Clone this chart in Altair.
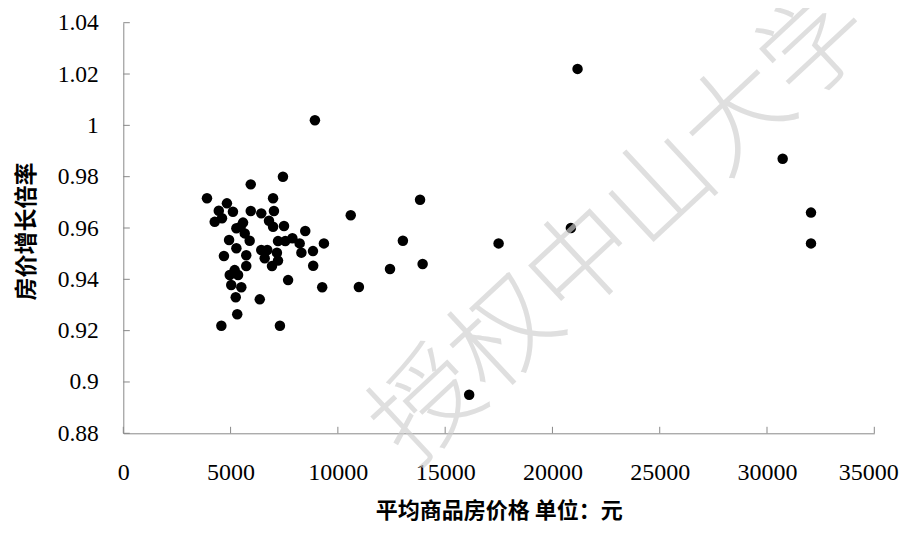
import altair as alt
import pandas as pd

# Average commodity housing price (yuan) and price growth ratio
price = [
    8930, 21170, 30730, 32050, 32050, 17490, 20860, 16120,
    10600, 13830, 13030, 12430, 13950, 10980,
    7440, 5940, 3900, 6980, 4830, 4450, 5110, 4260, 4600, 5940,
    6430, 7020, 6790, 6980, 7490, 8480, 5580, 5270, 5470, 5660,
    5890, 4930, 5270, 4690, 5730, 5730, 7210, 7550, 7880, 8220,
    8300, 8840, 9350, 8850, 9270, 7680, 6430, 6710, 6590, 7160,
    7210, 6930, 4960, 5190, 5350, 5030, 5500, 5240, 6360, 5310,
    4570, 7300,
]
ratio = [
    1.002, 1.022, 0.987, 0.966, 0.954, 0.954, 0.960, 0.895,
    0.965, 0.971, 0.955, 0.944, 0.946, 0.937,
    0.980, 0.977, 0.9716, 0.9716, 0.9696, 0.9667, 0.9663, 0.9624, 0.9638, 0.9666,
    0.9657, 0.9666, 0.9628, 0.9605, 0.9608, 0.9588, 0.9621, 0.9599, 0.9605, 0.9579,
    0.955, 0.9553, 0.9521, 0.9491, 0.9494, 0.9452, 0.9549, 0.9549, 0.956, 0.954,
    0.9504, 0.951, 0.954, 0.9453, 0.9369, 0.9397, 0.9514, 0.9514, 0.9482, 0.9504,
    0.9473, 0.9452, 0.9417, 0.9436, 0.9417, 0.9378, 0.9369, 0.933, 0.9322, 0.9264,
    0.9219, 0.9219,
]
x_ticks = [0, 5000, 10000, 15000, 20000, 25000, 30000, 35000]
y_ticks = [0.88, 0.90, 0.92, 0.94, 0.96, 0.98, 1.00, 1.02, 1.04]
x_title = "平均商品房价格 单位：元"
y_title = "房价增长倍率"
watermark = ["授权中山大学"]

W, H = 751, 410.6
GRAY = "#898989"
SERIF = "Liberation Serif"
CJK = "Noto Sans CJK SC"

xscale = alt.Scale(domain=[0, 35000], nice=False, zero=False)
yscale = alt.Scale(domain=[0.88, 1.04], nice=False, zero=False)

xaxis = alt.Axis(
    values=x_ticks, format="d", title=x_title, grid=False,
    ticks=False, tickSize=0, domainColor=GRAY, domainWidth=1,
    labelFont=SERIF, labelFontSize=24, labelColor="black",
    labelPadding=46, labelBaseline="alphabetic", labelFlush=False, labelOverlap=False,
    labelOffset={"condition": {"test": "datum.value >= 35000", "value": -6}, "value": 0},
    titleFont=CJK, titleFontSize=22, titleFontWeight="bold", titleColor="black",
    titleX=W / 2, titleY=77, titleAlign="center", titleBaseline="middle",
)
yaxis = alt.Axis(
    values=y_ticks, format="~g", title=y_title, grid=False,
    ticks=False, tickSize=0, domainColor=GRAY, domainWidth=1,
    labelFont=SERIF, labelFontSize=23.5, labelColor="black",
    labelPadding=25, labelFlush=False, labelOverlap=False,
    titleFont=CJK, titleFontSize=23, titleFontWeight="bold", titleColor="black",
    titleX=-97, titleY=H / 2 + 3, titleAngle=270, titleAlign="center", titleBaseline="middle",
)

pts = pd.DataFrame({"price": price, "ratio": ratio})

points = alt.Chart(pts).mark_circle(size=110, color="black", opacity=1).encode(
    x=alt.X("price:Q", scale=xscale, axis=xaxis),
    y=alt.Y("ratio:Q", scale=yscale, axis=yaxis),
)

xt = alt.Chart(pd.DataFrame({"price": x_ticks})).mark_rule(color=GRAY, strokeWidth=1).encode(
    x=alt.X("price:Q", scale=xscale, axis=xaxis),
    y=alt.value(H),
    y2=alt.value(H - 6.5),
)
yt = alt.Chart(pd.DataFrame({"ratio": y_ticks})).mark_rule(color=GRAY, strokeWidth=1).encode(
    y=alt.Y("ratio:Q", scale=yscale, axis=yaxis),
    x=alt.value(0),
    x2=alt.value(6.5),
)

wm = alt.Chart(pd.DataFrame({"w": watermark})).mark_text(
    angle=317, fontSize=106, font=CJK, fontWeight=300, color="#cfcfcf", opacity=0.65,
    align="center", baseline="middle",
).encode(text="w:N", x=alt.value(500), y=alt.value(205))

chart = alt.layer(xt, yt, points, wm).properties(
    width=W, height=H,
    autosize=alt.AutoSizeParams(type="none"),
    padding={"left": 115.3, "top": 14.7, "right": 25.7, "bottom": 91.7},
    background="white",
).configure_view(stroke=None)

chart.save("out.html", embed_options={"renderer": "svg", "actions": False})
